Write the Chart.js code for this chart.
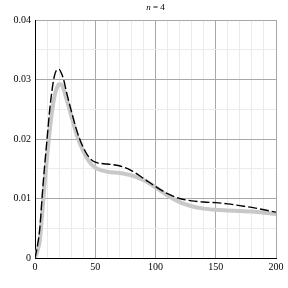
<!DOCTYPE html>
<html><head><meta charset="utf-8">
<script src="https://cdn.jsdelivr.net/npm/chart.js@4"></script>
<style>html,body{margin:0;padding:0;background:#fff}</style>
</head><body>
<canvas id="c" width="288" height="288"></canvas>
<script>
const dashedX = [0,2,4,6,8,10,12,14,16,18,20,22,24,26,30,35,40,45,50,60,70,80,90,100,110,120,130,140,150,160,170,180,190,200];
const dashedY = [0,0.002,0.005,0.0105,0.0155,0.020,0.0245,0.028,0.0305,0.0316,0.0317,0.031,0.0298,0.0280,0.0248,0.0212,0.0186,0.0169,0.0161,0.0158,0.0155,0.0147,0.0134,0.0120,0.0108,0.0100,0.0096,0.0094,0.0093,0.0091,0.0088,0.0085,0.0081,0.0077];
const grayX = [0,2,4,6,8,10,12,14,16,18,20,22,24,26,30,35,40,45,50,60,70,80,90,100,110,120,130,140,150,160,170,180,190,200];
const grayY = [0,0.0012,0.003,0.0075,0.0125,0.017,0.021,0.0245,0.027,0.0285,0.0292,0.0291,0.0282,0.0268,0.0240,0.0205,0.0180,0.0162,0.0152,0.0145,0.0143,0.0139,0.0131,0.0119,0.0105,0.0094,0.0087,0.0083,0.0081,0.0080,0.0079,0.0078,0.0076,0.0074];
const xLabels = [0,50,100,150,200];
const yLabels = [0,0.01,0.02,0.03,0.04];
const titleParts = ['n',' = 4'];

const toPts = (xs, ys) => xs.map((x, i) => ({x: x, y: ys[i]}));
const font = {family: '"Liberation Serif", "DejaVu Serif", serif', size: 10};

const titlePlugin = {
  id: 'ttl',
  afterDraw(chart) {
    const ctx = chart.ctx;
    const a = chart.chartArea;
    ctx.save();
    ctx.fillStyle = '#000';
    ctx.textBaseline = 'middle';
    ctx.font = 'italic 9px "Liberation Serif", serif';
    const w1 = ctx.measureText(titleParts[0]).width;
    ctx.font = '9px "Liberation Serif", serif';
    const w2 = ctx.measureText(titleParts[1]).width;
    let x = (a.left + a.right) / 2 - (w1 + w2) / 2;
    ctx.font = 'italic 9px "Liberation Serif", serif';
    ctx.fillText(titleParts[0], x, 8);
    ctx.font = '9px "Liberation Serif", serif';
    ctx.fillText(titleParts[1], x + w1, 8);
    ctx.restore();
  }
};

new Chart(document.getElementById('c'), {
  type: 'line',
  data: {
    datasets: [
      {data: toPts(dashedX, dashedY), borderColor: '#000', borderWidth: 1.4, borderDash: [9, 3], pointRadius: 0, cubicInterpolationMode: 'monotone', fill: false, order: 0},
      {data: toPts(grayX, grayY), borderColor: '#c8c8c8', borderWidth: 4, pointRadius: 0, cubicInterpolationMode: 'monotone', fill: false, order: 1}
    ]
  },
  plugins: [titlePlugin],
  options: {
    responsive: false,
    animation: false,
    layout: {padding: {left: 0, right: 12, top: 20, bottom: 0}},
    plugins: {legend: {display: false}, tooltip: {enabled: false}},
    scales: {
      x: {
        type: 'linear', min: 0, max: 200,
        ticks: {stepSize: 10, font: font, color: '#000', padding: 3, maxRotation: 0, autoSkip: false,
          callback: v => xLabels.includes(v) ? String(v) : ''},
        grid: {drawTicks: false, color: c => (c.tick && c.tick.value % 50 === 0) ? '#a8a8a8' : '#ebebeb', lineWidth: 1},
        border: {color: '#000', width: 1},
        afterFit: s => { s.height = 30; }
      },
      y: {
        type: 'linear', min: 0, max: 0.04,
        ticks: {stepSize: 0.005, font: font, color: '#000', padding: 4, autoSkip: false,
          callback: v => { const r = Math.round(v * 1000) / 1000; return yLabels.some(l => Math.abs(l - r) < 1e-9) ? String(r) : ''; }},
        grid: {drawTicks: false, color: c => (c.tick && Math.round(c.tick.value * 1000) % 10 === 0) ? '#a8a8a8' : '#ebebeb', lineWidth: 1},
        border: {color: '#000', width: 1},
        afterFit: s => { s.width = 35; }
      }
    }
  }
});
</script>
</body></html>
